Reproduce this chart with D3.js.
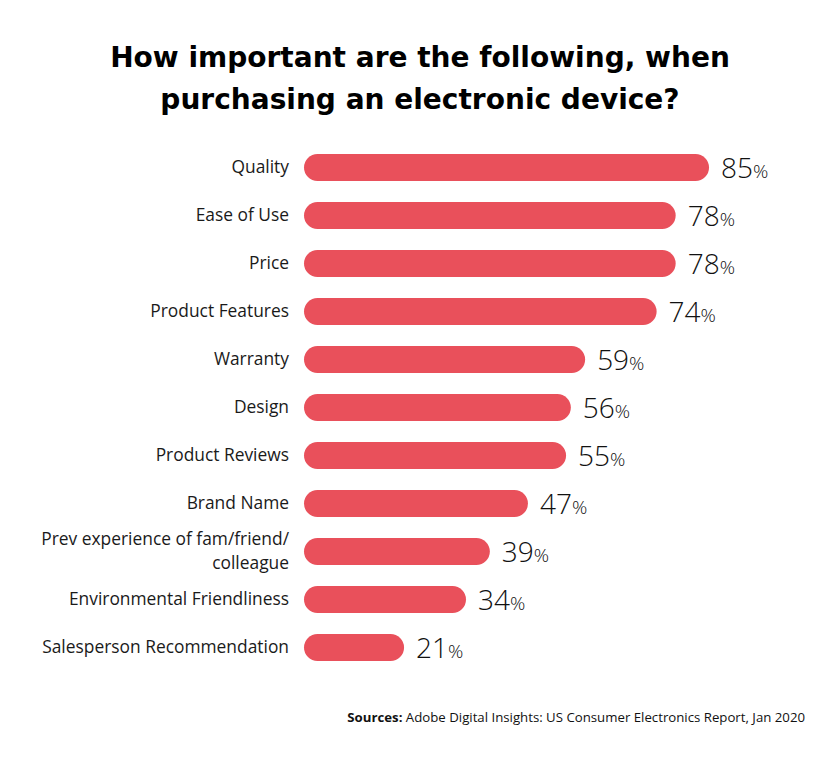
<!DOCTYPE html>
<html>
<head>
<meta charset="utf-8">
<script src="https://cdn.jsdelivr.net/npm/d3@7"></script>
<style>
  html, body { margin: 0; padding: 0; background: #fff; }
  svg { display: block; }
</style>
</head>
<body>
<div id="chart"></div>
<script>
const categories = [
  ["Quality"],
  ["Ease of Use"],
  ["Price"],
  ["Product Features"],
  ["Warranty"],
  ["Design"],
  ["Product Reviews"],
  ["Brand Name"],
  ["Prev experience of fam/friend/", "colleague"],
  ["Environmental Friendliness"],
  ["Salesperson Recommendation"]
];
const values = [85, 78, 78, 74, 59, 56, 55, 47, 39, 34, 21];
const titleLines = ["How important are the following, when", "purchasing an electronic device?"];
const sourceBold = "Sources:";
const sourceText = " Adobe Digital Insights: US Consumer Electronics Report, Jan 2020";

const W = 840, H = 758;
const barColor = "#e9505b";
const titleFont = "'DejaVu Sans', sans-serif";
const labelFont = "'Open Sans', sans-serif";

const svg = d3.select("#chart").append("svg").attr("width", W).attr("height", H);

// Title
const title = svg.append("g");
titleLines.forEach((t, i) => {
  title.append("text")
    .attr("x", W / 2).attr("y", 67 + i * 42)
    .attr("text-anchor", "middle")
    .style("font-family", titleFont)
    .style("font-weight", "700")
    .style("font-size", "30px")
    .style("fill", "#000")
    .text(t);
});
{
  const first = title.select("text").node();
  const w = first.getComputedTextLength();
  const fs = 30 * 620 / w;
  title.selectAll("text").style("font-size", fs + "px");
}

const ids = categories.map((c, i) => i);
const x = d3.scaleLinear().domain([0, 100]).range([304, 780.5]);
const y = d3.scalePoint().domain(ids).range([167.5, 647.5]);
const barH = 27;

// Bars
svg.append("g").selectAll("rect").data(ids).join("rect")
  .attr("x", x(0))
  .attr("y", i => y(i) - barH / 2)
  .attr("width", i => x(values[i]) - x(0))
  .attr("height", barH)
  .attr("rx", barH / 2).attr("ry", barH / 2)
  .attr("fill", barColor);

// Category labels: size fitted to the reference width of the longest label
let labelSize = 16;
{
  const probe = svg.append("text").style("font-family", labelFont)
    .style("font-size", "16px").text(categories[10][0]);
  labelSize = 16 * 247 / probe.node().getComputedTextLength();
  probe.remove();
}
const lh = Math.ceil(labelSize * 1.37);
const lab = svg.append("g").selectAll("text").data(ids).join("text")
  .attr("text-anchor", "end")
  .attr("x", 289)
  .style("font-family", labelFont)
  .style("font-size", labelSize + "px")
  .style("fill", "#1a1a1a");
lab.each(function (i) {
  const lines = categories[i];
  const t = d3.select(this);
  const y0 = y(i) + 5 - (lines.length - 1) * lh / 2;
  lines.forEach((l, k) => {
    t.append("tspan").attr("x", 289).attr("y", y0 + k * lh).text(l);
  });
});

// Value labels
const val = svg.append("g").selectAll("text").data(ids).join("text")
  .attr("x", i => x(values[i]) + 12)
  .attr("y", i => y(i) + 10.5)
  .style("font-family", "'Open Sans', sans-serif")
  .style("font-weight", "300")
  .style("fill", "#111");
val.append("tspan").style("font-size", "28px").text(i => values[i]);
val.append("tspan").style("font-size", "19px").text("%");

// Source
const src = svg.append("text")
  .attr("x", 805).attr("y", 722)
  .attr("text-anchor", "end")
  .style("font-family", labelFont)
  .style("font-size", "12px")
  .style("fill", "#111");
src.append("tspan").style("font-weight", "700").text(sourceBold);
src.append("tspan").text(sourceText);
{
  const w = src.node().getComputedTextLength();
  src.style("font-size", (12 * 458 / w) + "px");
}
</script>
</body>
</html>
